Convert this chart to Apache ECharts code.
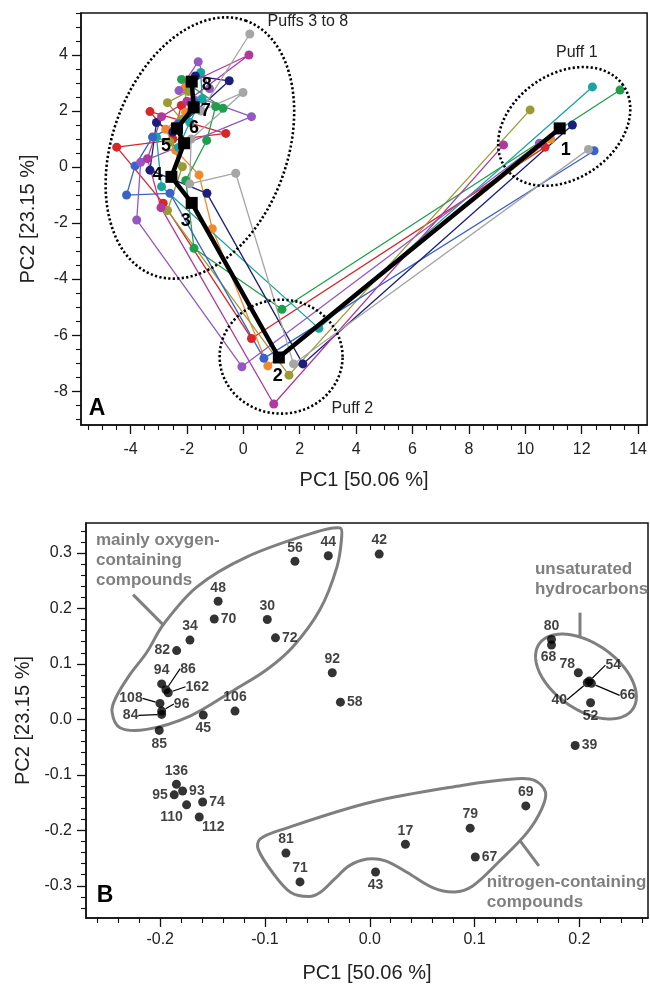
<!DOCTYPE html>
<html><head><meta charset="utf-8">
<script src="https://cdn.jsdelivr.net/npm/echarts@6/dist/echarts.min.js"></script>
<style>html,body{margin:0;padding:0;background:#fff}#c{width:650px;height:984px}</style>
</head><body><div id="c"></div>
<script>
// ---------- Panel A: PCA scores, puffs 1..8 per sample ----------
const puffNumbers = ['1','2','3','4','5','6','7','8'];
const puffRed     = [[10.7,0.71],[0.29,-6.12],[-2.84,-1.29],[-4.49,0.71],[-0.62,1.2],[-3.31,1.98],[-2.5,1.0],[-2.2,2.2]];
const puffOrange  = [[10.9,1.0],[0.87,-7.1],[-1.1,-2.2],[-1.57,-0.28],[-2.4,0.6],[-2.75,1.35],[-2.05,1.95],[-2.05,2.85]];
const puffOlive   = [[10.17,2.04],[1.62,-7.43],[-2.69,-1.55],[-2.16,0.01],[-2.6,0.9],[-2.2,1.7],[-2.69,2.3],[-1.95,2.7]];
const puffGreen   = [[13.36,2.75],[1.37,-5.08],[-1.75,-2.9],[-2.04,-0.48],[-1.3,0.95],[-0.98,2.16],[-0.72,2.1],[-2.19,3.13]];
const puffTeal    = [[12.38,2.86],[2.68,-5.76],[-2.9,-0.7],[-3.08,1.07],[-2.3,0.7],[-1.9,1.6],[-1.46,2.44],[-1.51,3.38]];
const puffBlue    = [[12.44,0.58],[0.73,-6.83],[-2.6,-0.94],[-4.14,-1.0],[-3.84,0.04],[-3.22,1.07],[-2.3,1.55],[-1.75,2.35]];
const puffNavy    = [[11.67,1.5],[2.11,-7.03],[-1.29,-0.94],[-3.31,-0.11],[-3.08,1.59],[-2.5,1.25],[-0.5,3.08],[-1.7,3.25]];
const puffPurple  = [[10.5,0.85],[-0.05,-7.13],[-3.78,-1.89],[-3.64,0.17],[0.29,1.8],[-2.28,2.73],[-1.6,3.76],[-1.2,2.8]];
const puffMagenta = [[9.23,0.79],[1.08,-8.46],[-2.92,-1.45],[-3.4,0.3],[-2.9,1.8],[-2.0,2.35],[0.2,4.0],[-1.9,3.0]];
const puffGrey    = [[12.24,0.63],[1.78,-7.03],[-0.27,-0.22],[-1.9,-0.6],[-1.85,1.0],[-0.01,2.66],[-1.5,2.0],[0.23,4.75]];
const puffMean    = [[11.22,1.38],[1.26,-6.8],[-1.83,-1.28],[-2.55,-0.35],[-2.1,0.85],[-2.35,1.38],[-1.76,2.13],[-1.83,3.05]];

// ---------- Panel B: loadings ----------
const loadingNames = ['56','44','42','48','70','30','72','34','82','92','58','94','86','162','108','96','84','45','106','85','136','93','95','74','110','112','81','71','43','17','79','67','69','39','80','68','78','54','66','40','52'];
const loadingPC1 = [-0.0714,-0.0396,0.009,-0.1447,-0.1484,-0.0978,-0.090,-0.1716,-0.1843,-0.0358,-0.028,-0.1986,-0.1945,-0.1923,-0.2002,-0.1986,-0.1986,-0.1589,-0.1286,-0.2009,-0.1845,-0.1786,-0.1866,-0.1595,-0.1748,-0.1627,-0.080,-0.0666,0.0055,0.034,0.0958,0.1007,0.1489,0.196,0.1734,0.1734,0.199,0.2094,0.2115,0.2075,0.2107];
const loadingPC2 = [0.285,0.295,0.298,0.213,0.181,0.180,0.147,0.143,0.124,0.084,0.031,0.064,0.0535,0.048,0.0288,0.015,0.009,0.0077,0.015,-0.0198,-0.117,-0.129,-0.136,-0.149,-0.154,-0.176,-0.241,-0.293,-0.275,-0.225,-0.196,-0.248,-0.156,-0.047,0.144,0.134,0.084,0.069,0.065,0.066,0.030];

// ---------- tick labels ----------
const xTicksA = [-4,-2,0,2,4,6,8,10,12,14];
const yTicksA = [-8,-6,-4,-2,0,2,4];
const xTicksB = [-0.2,-0.1,0.0,0.1,0.2];
const yTicksB = [-0.3,-0.2,-0.1,0.0,0.1,0.2,0.3];

// ---------- styling / layout (not data) ----------
const FONT = '"Liberation Sans", Arial, Helvetica, sans-serif';
const sampleColors = ['#d9262b','#f08a2c','#9c9a34','#1f9e4c','#19a3a3','#3a63c9','#1c1f7a','#9557c4','#b0389e','#a6a6a6'];
const sampleSets = [puffRed,puffOrange,puffOlive,puffGreen,puffTeal,puffBlue,puffNavy,puffPurple,puffMagenta,puffGrey];
const puffLabelOffsets = [[6,22],[-1,19],[-6,18],[-14,-2],[-18,3],[17,0],[12,4],[15,3]];
// label placement per loading: t/r/l/b or ['o',dx,dy] (offset) or ['L',dx,dy] (leader line)
const loadingLabelPlace = ['t','t','t','t','r','t','r','t','l','t','r','t',['L',22,-21],['L',29,-6],['L',-29,-5],['L',20,-7],['L',-31,1],'b','t','b','t','r','l','r',['o',-15,12],['o',14,10],'t','t','b','t','t','r','t','r','t',['o',-3,12],['o',-11,-9],['L',24,-16],['L',36,12],['L',-28,17],'b'];

const gray = '#7f7f7f';
function range(a,b,s){const o=[];for(let v=a;v<=b+1e-9;v+=s)o.push(+v.toFixed(4));return o;}
const minorXA = range(-5.5,14,0.5).filter(v=>!xTicksA.includes(v));
const minorYA = range(-9,5.5,0.5).filter(v=>!yTicksA.includes(v));
const minorXB = range(-0.26,0.26,0.02).filter(v=>!xTicksB.some(t=>Math.abs(t-v)<1e-6));
const minorYB = range(-0.34,0.34,0.02).filter(v=>!yTicksB.some(t=>Math.abs(t-v)<1e-6));

function axisPair(dim, grid, min, max, majors, minors, fmt, name, nameGap, margin){
  const pos = dim==='x'?'bottom':'left';
  return [{
    type:'value', gridIndex:grid, position:pos, min:min, max:max,
    name:name, nameLocation:'middle', nameGap:nameGap,
    nameTextStyle:{fontSize:20, color:'#222', fontFamily:FONT},
    axisLine:{show:true, onZero:false, lineStyle:{color:'#111', width:1.5}},
    axisTick:{show:true, inside:false, length:9, customValues:majors, lineStyle:{color:'#111', width:1.3}},
    axisLabel:{show:true, customValues:majors, formatter:fmt, margin:margin, fontSize:16, color:'#222', fontFamily:FONT},
    splitLine:{show:false}
  },{
    type:'value', gridIndex:grid, position:pos, min:min, max:max,
    axisLine:{show:false, onZero:false},
    axisTick:{show:true, inside:false, length:5, customValues:minors, lineStyle:{color:'#111', width:1.1}},
    axisLabel:{show:false}, splitLine:{show:false}
  }];
}
const fmtInt = v => String(Math.round(v));
const fmt1 = v => v.toFixed(1);

const xAxes = [].concat(
  axisPair('x',0,-5.756,14.32,xTicksA,minorXA,fmtInt,'PC1 [50.06 %]',45,17),
  axisPair('x',1,-0.2708,0.2655,xTicksB,minorXB,fmt1,'PC1 [50.06 %]',45,14));
const yAxes = [].concat(
  axisPair('y',0,-9.21,5.5,yTicksA,minorYA,fmtInt,'PC2 [23.15 %]',43,13),
  axisPair('y',1,-0.358,0.354,yTicksB,minorYB,fmt1,'PC2 [23.15 %]',48,14));

// ellipse helper: center in data, a/b in x-axis data units, angle deg (ccw on screen)
function ellipsePts(api, e){
  const c = api.coord(e.c);
  const o = api.coord([e.c[0]+1, e.c[1]]);
  const k = o[0]-c[0];
  const A = e.a*k, B = e.b*k, th = e.ang*Math.PI/180;
  const pts=[];
  for(let i=0;i<180;i++){
    const t=i/180*2*Math.PI, lx=A*Math.cos(t), ly=B*Math.sin(t);
    pts.push([c[0]+lx*Math.cos(th)-ly*Math.sin(th), c[1]-(lx*Math.sin(th)+ly*Math.cos(th))]);
  }
  return pts;
}
function txt(api, p, text, st){
  const c = api.coord(p);
  return {type:'text', x:c[0], y:c[1], silent:true, style:Object.assign({text:text, fill:'#222', fontSize:16, fontFamily:FONT, align:'left', verticalAlign:'middle', textAlign:'left', textVerticalAlign:'middle'}, st||{})};
}

const ellipsesA = [
  {c:[-1.54,0.68], a:4.8, b:3.1, ang:70},
  {c:[1.34,-6.77], a:2.18, b:2.02, ang:0},
  {c:[11.38,1.45], a:2.55, b:1.85, ang:35}
];
const outlineOxygen = [[-0.0284,0.345],[-0.0268,0.329],[-0.0313,0.275],[-0.0475,0.198],[-0.0733,0.131],[-0.0981,0.090],[-0.1286,0.054],[-0.1716,0.006],[-0.2129,-0.018],[-0.2384,-0.015],[-0.246,0.0144],[-0.2422,0.0396],[-0.2288,0.081],[-0.2129,0.1205],[-0.197,0.171],[-0.1649,0.239],[-0.1172,0.293],[-0.0542,0.336]];
const outlineNitrogen = [[0.1572,-0.110],[0.1677,-0.1313],[0.1641,-0.1613],[0.1503,-0.2036],[0.1225,-0.2579],[0.0982,-0.3002],[0.0808,-0.3112],[0.060,-0.3032],[0.0358,-0.2761],[0.015,-0.2549],[-0.0024,-0.2518],[-0.0198,-0.264],[-0.0337,-0.2881],[-0.0475,-0.3122],[-0.058,-0.3194],[-0.0753,-0.3122],[-0.0927,-0.2761],[-0.1065,-0.2338],[-0.1048,-0.2158],[-0.0823,-0.1977],[0.001,-0.1493],[0.0878,-0.119],[0.1399,-0.107]];
const ellipseHydro = {c:[0.2063,0.0773], a:0.0544, b:0.0315, ang:-35};
const leadersB = [[[-0.2259,0.2248],[-0.1973,0.1709]],[[0.2006,0.1924],[0.2006,0.1493]],[[0.1433,-0.2187],[0.1614,-0.264]]];

const series = [];
sampleSets.forEach((d,i)=>{
  series.push({type:'line', xAxisIndex:0, yAxisIndex:0, data:d, showSymbol:false, symbol:'none', silent:true,
    lineStyle:{color:sampleColors[i], width:1.3}, z:2});
});
sampleSets.forEach((d,i)=>{
  series.push({type:'scatter', xAxisIndex:0, yAxisIndex:0, data:d, symbolSize:9, silent:true,
    itemStyle:{color:sampleColors[i], opacity:1}, z:3});
});
series.push({type:'line', xAxisIndex:0, yAxisIndex:0, z:5, silent:true,
  data: puffMean.map((p,i)=>({value:p, label:{show:true, position:'inside', offset:puffLabelOffsets[i], formatter:puffNumbers[i]}})),
  symbol:'rect', symbolSize:12, showSymbol:true, itemStyle:{color:'#000'}, lineStyle:{color:'#000', width:4.5},
  label:{show:true, fontSize:18, fontWeight:'bold', color:'#000', fontFamily:FONT}});
series.push({type:'custom', xAxisIndex:0, yAxisIndex:0, data:[[0,0]], clip:false, silent:true, z:4,
  renderItem:(params, api)=>{
    const ch = ellipsesA.map(e=>({type:'polygon', shape:{points:ellipsePts(api,e)},
      style:{fill:'none', stroke:'#000', lineWidth:2.6, lineDash:[2.2,2.3]}}));
    ch.push(txt(api,[0.86,5.21],'Puffs 3 to 8'));
    ch.push(txt(api,[11.09,4.1],'Puff 1'));
    ch.push(txt(api,[3.13,-8.61],'Puff 2'));
    ch.push(txt(api,[-5.19,-8.64],'A',{fontSize:23, fontWeight:'bold', fill:'#000', align:'center', textAlign:'center'}));
    return {type:'group', children:ch};
  }});

// Panel B
const loadData = loadingNames.map((n,i)=>{
  const pl = loadingLabelPlace[i];
  const item = {name:n, value:[loadingPC1[i], loadingPC2[i]]};
  if (typeof pl === 'string') {
    const m = {t:'top', r:'right', l:'left', b:'bottom'};
    item.label = {position:m[pl], distance:2};
  } else if (pl[0]==='o') {
    item.label = {position:'inside'};
  } else {
    item.label = {position:'inside'};
    item.labelLine = {show:true, lineStyle:{color:'#000', width:1.2}};
  }
  return item;
});
series.push({type:'scatter', xAxisIndex:2, yAxisIndex:2, data:loadData, symbolSize:9, silent:true,
  itemStyle:{color:'#000'}, z:5,
  label:{show:true, formatter:'{b}', fontSize:14, fontWeight:'bold', color:'#111', fontFamily:FONT},
  labelLayout:(p)=>{const pl=loadingLabelPlace[p.dataIndex]; if(Array.isArray(pl)){return {dx:pl[1], dy:pl[2]};} return {};}
});
series.push({type:'custom', xAxisIndex:2, yAxisIndex:2, data:[[0,0]], clip:false, silent:true, z:3,
  renderItem:(params, api)=>{
    const st = {fill:'none', stroke:gray, lineWidth:3};
    const ch = [];
    ch.push({type:'polygon', shape:{points:outlineOxygen.map(p=>api.coord(p)), smooth:0.35}, style:st});
    ch.push({type:'polygon', shape:{points:outlineNitrogen.map(p=>api.coord(p)), smooth:0.35}, style:st});
    ch.push({type:'polygon', shape:{points:ellipsePts(api, ellipseHydro)}, style:st});
    leadersB.forEach(l=>{const a=api.coord(l[0]), b=api.coord(l[1]);
      ch.push({type:'line', shape:{x1:a[0],y1:a[1],x2:b[0],y2:b[1]}, style:{stroke:gray, lineWidth:3}});});
    const gs = {fill:gray, fontSize:17, fontWeight:'bold', verticalAlign:'top', textVerticalAlign:'top', lineHeight:20};
    ch.push(txt(api,[-0.2613,0.34],'mainly oxygen-\ncontaining\ncompounds',gs));
    ch.push(txt(api,[0.1576,0.2878],'unsaturated\nhydrocarbons',gs));
    ch.push(txt(api,[0.1117,-0.275],'nitrogen-containing\ncompounds',gs));
    ch.push(txt(api,[-0.2527,-0.318],'B',{fontSize:23, fontWeight:'bold', fill:'#000', align:'center', textAlign:'center'}));
    return {type:'group', children:ch};
  }});

const chart = echarts.init(document.getElementById('c'));
chart.setOption({
  animation:false,
  backgroundColor:'#fff',
  grid:[
    {left:81, top:13, width:567, height:412, show:true, borderColor:'#111', borderWidth:1.5, backgroundColor:'transparent'},
    {left:86, top:523, width:562, height:396, show:true, borderColor:'#111', borderWidth:1.5, backgroundColor:'transparent'}
  ],
  xAxis:xAxes, yAxis:yAxes, series:series
});
</script></body></html>
